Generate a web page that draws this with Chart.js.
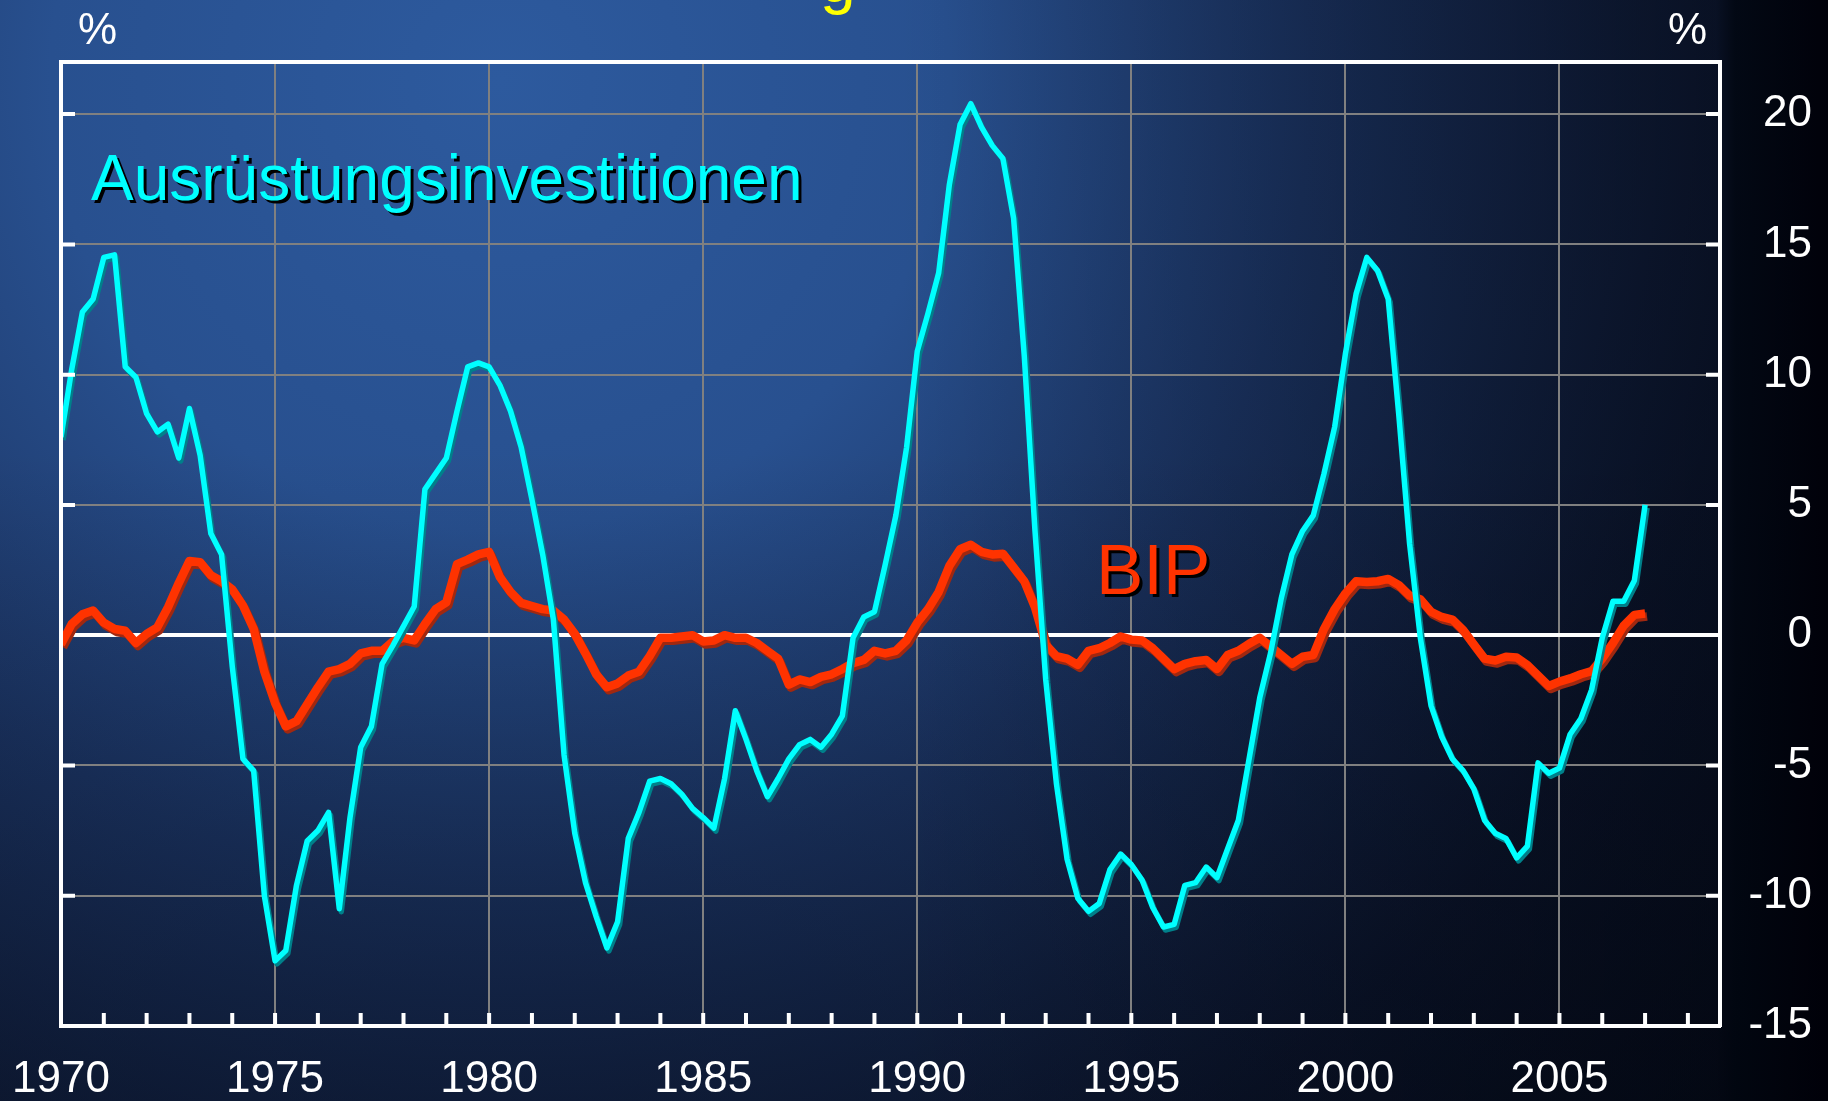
<!DOCTYPE html>
<html>
<head>
<meta charset="utf-8">
<script src="https://cdn.jsdelivr.net/npm/chart.js@4/dist/chart.umd.min.js"></script>
<style>
  html, body { margin: 0; padding: 0; background: #050812; }
  #wrap { width: 1828px; height: 1101px; position: relative; }
</style>
</head>
<body>
<div id="wrap"><canvas id="chart" width="1828" height="1101"></canvas></div>
<script>
// quarterly data, first quarter 1970
const startYear = 1970;
const xMin = 1970;
const xMax = 2008.75;
const yTicks = [-15, -10, -5, 0, 5, 10, 15, 20];

const investRates = [
  7.6, 10.2, 12.4, 12.9, 14.5, 14.6, 10.3, 9.9, 8.5, 7.8, 8.1, 6.8, 8.7, 6.9, 3.9, 3.1,
  -1.2, -4.75, -5.2, -10.0, -12.5, -12.1, -9.6, -7.9, -7.5, -6.8, -10.5, -7.0, -4.3, -3.5, -1.1, -0.4,
  0.35, 1.1, 5.6, 6.2, 6.8, 8.6, 10.3, 10.45, 10.3, 9.6, 8.6, 7.2, 5.2, 3.1, 0.6, -4.6,
  -7.6, -9.5, -10.8, -12.0, -11.0, -7.8, -6.8, -5.6, -5.5, -5.7, -6.1, -6.65, -7.0, -7.4, -5.5, -2.9,
  -4.0, -5.2, -6.2, -5.5, -4.75, -4.2, -4.0, -4.3, -3.8, -3.1, -0.1, 0.7, 0.9, 2.7, 4.6, 7.2,
  10.9, 12.35, 13.9, 17.3, 19.6, 20.4, 19.5, 18.8, 18.3, 16.0, 10.7, 4.0, -1.7, -5.7, -8.6, -10.1,
  -10.6, -10.3, -9.0, -8.4, -8.8, -9.4, -10.45, -11.2, -11.1, -9.6, -9.5, -8.9, -9.3, -8.2, -7.1, -4.75,
  -2.4, -0.7, 1.4, 3.1, 4.0, 4.6, 6.2, 8.0, 10.8, 13.1, 14.5, 14.0, 12.9, 8.4, 3.5, -0.1,
  -2.7, -3.9, -4.75, -5.2, -5.9, -7.1, -7.6, -7.8, -8.55, -8.1, -4.9, -5.3, -5.1, -3.8, -3.2, -2.1,
  -0.1, 1.3, 1.3, 2.1, 5.0
];

const gdpRates = [
  -0.35, 0.43, 0.8, 0.95, 0.48, 0.24, 0.17, -0.3, 0.05, 0.3, 1.07, 2.0, 2.85, 2.8, 2.3, 2.07,
  1.76, 1.14, 0.24, -1.4, -2.6, -3.5, -3.3, -2.65, -2.0, -1.4, -1.3, -1.1, -0.7, -0.6, -0.6, -0.24,
  -0.1, -0.2, 0.43, 1.0, 1.26, 2.73, 2.9, 3.1, 3.2, 2.23, 1.66, 1.24, 1.12, 1.0, 0.95, 0.6,
  0.05, -0.7, -1.5, -2.0, -1.85, -1.55, -1.4, -0.8, -0.1, -0.1, -0.05, 0.0, -0.24, -0.2, 0.0, -0.1,
  -0.1, -0.3, -0.6, -0.9, -1.9, -1.7, -1.8, -1.6, -1.5, -1.3, -1.07, -0.95, -0.6, -0.7, -0.6, -0.2,
  0.48, 1.0, 1.66, 2.66, 3.3, 3.47, 3.2, 3.1, 3.13, 2.6, 2.07, 1.07, -0.36, -0.8, -0.9, -1.14,
  -0.6, -0.5, -0.3, -0.05, -0.17, -0.2, -0.5, -0.9, -1.3, -1.1, -1.0, -0.95, -1.3, -0.76, -0.6, -0.33,
  -0.1, -0.43, -0.76, -1.1, -0.83, -0.76, 0.24, 1.0, 1.6, 2.07, 2.04, 2.07, 2.16, 1.92, 1.52, 1.38,
  0.9, 0.7, 0.6, 0.2, -0.36, -0.9, -0.97, -0.83, -0.86, -1.14, -1.55, -1.95, -1.78, -1.66, -1.5, -1.38,
  -0.9, -0.3, 0.36, 0.78, 0.83
];

const FONT = '"Liberation Sans", Arial, sans-serif';

function toPoints(values) {
  return values.map((v, i) => ({ x: startYear + i / 4, y: v }));
}

const years = [];
for (let y = 1970; y <= 2008; y++) years.push(y);

const backgroundPlugin = {
  id: 'slideBackground',
  beforeDraw(chart) {
    const ctx = chart.ctx;
    const w = chart.width, h = chart.height;
    ctx.save();
    const g = ctx.createRadialGradient(500, 80, 0, 500, 80, 1800);
    g.addColorStop(0, '#2d5a9e');
    g.addColorStop(0.25, '#28508f');
    g.addColorStop(0.45, '#1c3564');
    g.addColorStop(0.7, '#0f1a35');
    g.addColorStop(1, '#050812');
    ctx.fillStyle = g;
    ctx.fillRect(0, 0, w, h);
    // darker towards the bottom
    const vg = ctx.createLinearGradient(0, 450, 0, h);
    vg.addColorStop(0, 'rgba(3,8,20,0)');
    vg.addColorStop(1, 'rgba(3,8,20,0.4)');
    ctx.fillStyle = vg;
    ctx.fillRect(0, 0, w, h);
    // darker towards the right edge
    const lg = ctx.createLinearGradient(900, 0, 1828, 0);
    lg.addColorStop(0, 'rgba(0,3,10,0)');
    lg.addColorStop(0.88, 'rgba(0,3,10,0.45)');
    lg.addColorStop(0.9, 'rgba(0,5,14,0.85)');
    lg.addColorStop(1, 'rgba(0,0,8,0.95)');
    ctx.fillStyle = lg;
    ctx.fillRect(0, 0, w, h);
    ctx.restore();
  }
};

const shadowPlugin = {
  id: 'lineShadow',
  beforeDatasetDraw(chart, args) {
    const ds = chart.data.datasets[args.index];
    const ctx = chart.ctx;
    ctx.save();
    ctx.shadowColor = ds.shadowColor;
    ctx.shadowOffsetX = 2;
    ctx.shadowOffsetY = 3;
    ctx.shadowBlur = 0;
  },
  afterDatasetDraw(chart) {
    chart.ctx.restore();
  }
};

const framePlugin = {
  id: 'frame',
  afterDatasetsDraw(chart) {
    const ctx = chart.ctx;
    const a = chart.chartArea;
    const xs = chart.scales.x, ys = chart.scales.y;
    ctx.save();
    ctx.strokeStyle = '#ffffff';
    ctx.lineWidth = 4;
    ctx.lineCap = 'butt';
    ctx.beginPath();
    ctx.moveTo(a.left, a.bottom + 2);
    ctx.lineTo(a.left, a.top);
    ctx.lineTo(a.right + 2, a.top);
    ctx.stroke();
    // year ticks pointing up from the bottom axis
    ctx.beginPath();
    years.forEach(y => {
      if (y === 1970) return;
      const px = xs.getPixelForValue(y);
      ctx.moveTo(px, a.bottom);
      ctx.lineTo(px, a.bottom - 13);
    });
    // short value ticks on both sides
    yTicks.forEach(v => {
      if (v === -15 || v === 0) return;
      const py = ys.getPixelForValue(v);
      ctx.moveTo(a.left, py);
      ctx.lineTo(a.left + 14, py);
      ctx.moveTo(a.right, py);
      ctx.lineTo(a.right - 14, py);
    });
    ctx.stroke();
    ctx.restore();
  },
  afterDraw(chart) {
    const ctx = chart.ctx;
    ctx.save();
    ctx.textBaseline = 'alphabetic';
    ctx.textAlign = 'left';
    // title descender peeking in from above
    ctx.fillStyle = '#ffff00';
    ctx.font = '64px ' + FONT;
    ctx.fillText('g', 820, 2);
    ctx.fillStyle = '#ffffff';
    ctx.font = '44px ' + FONT;
    ctx.fillText('%', 78, 44);
    ctx.fillText('%', 1668, 44);
    // series labels
    ctx.font = '64px ' + FONT;
    ctx.fillStyle = '#000000';
    ctx.fillText('Ausrüstungsinvestitionen', 94, 203);
    ctx.fillStyle = '#00ffff';
    ctx.fillText('Ausrüstungsinvestitionen', 91, 200);
    ctx.font = '71px ' + FONT;
    ctx.fillStyle = '#000000';
    ctx.fillText('BIP', 1099, 597);
    ctx.fillStyle = '#ff3300';
    ctx.fillText('BIP', 1096, 594);
    ctx.restore();
  }
};

new Chart(document.getElementById('chart').getContext('2d'), {
  type: 'line',
  data: {
    datasets: [
      {
        label: 'Ausrüstungsinvestitionen',
        data: toPoints(investRates),
        borderColor: '#00ffff',
        shadowColor: '#00808a',
        borderWidth: 5.5,
        pointRadius: 0,
        tension: 0,
        borderJoinStyle: 'round',
        fill: false
      },
      {
        label: 'BIP',
        data: toPoints(gdpRates),
        borderColor: '#ff3300',
        shadowColor: '#a02810',
        borderWidth: 8.5,
        pointRadius: 0,
        tension: 0,
        borderJoinStyle: 'round',
        fill: false
      }
    ]
  },
  options: {
    responsive: false,
    animation: false,
    devicePixelRatio: 1,
    layout: { padding: { left: 61, top: 62, right: 16, bottom: 0 } },
    plugins: {
      legend: { display: false },
      title: { display: false },
      tooltip: { enabled: false }
    },
    scales: {
      x: {
        type: 'linear',
        min: xMin,
        max: xMax,
        afterBuildTicks: scale => { scale.ticks = years.map(v => ({ value: v })); },
        afterFit: scale => {
          scale.height = 75;
          scale.paddingLeft = 0;
          scale.paddingRight = 0;
        },
        ticks: {
          autoSkip: false,
          maxRotation: 0,
          padding: 27,
          color: '#ffffff',
          font: { family: FONT, size: 44 },
          callback: v => (v % 5 === 0 ? String(v) : '')
        },
        grid: {
          drawTicks: false,
          color: c => (c.tick && c.tick.value % 5 === 0 && c.tick.value !== 1970 ? '#808080' : 'rgba(0,0,0,0)'),
          lineWidth: 2
        },
        border: { display: true, color: '#ffffff', width: 4 }
      },
      y: {
        position: 'right',
        min: -15,
        max: 22,
        afterBuildTicks: scale => { scale.ticks = yTicks.map(v => ({ value: v })); },
        afterFit: scale => { scale.width = 92; },
        ticks: {
          padding: 28,
          crossAlign: 'far',
          color: '#ffffff',
          font: { family: FONT, size: 44 }
        },
        grid: {
          drawTicks: false,
          color: c => (c.tick && c.tick.value === 0 ? '#ffffff' : '#808080'),
          lineWidth: c => (c.tick && c.tick.value === 0 ? 4 : 2)
        },
        border: { display: true, color: '#ffffff', width: 4 }
      }
    }
  },
  plugins: [backgroundPlugin, shadowPlugin, framePlugin]
});
</script>
</body>
</html>
